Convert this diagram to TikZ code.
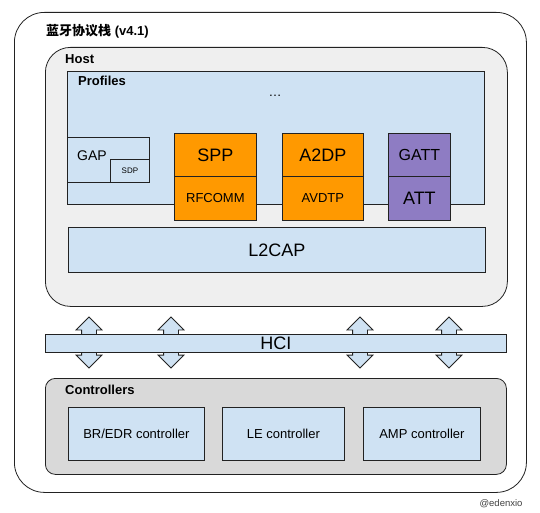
\documentclass[tikz,border=0pt]{standalone}
\usepackage{fontspec}
\setmainfont{Liberation Sans}
\newfontfamily\cjk{Noto Sans CJK SC}
\usetikzlibrary{shapes.arrows}
\definecolor{lineDark}{HTML}{222222}
\definecolor{hostGray}{HTML}{EFEFEF}
\definecolor{ctrlGray}{HTML}{D9D9D9}
\definecolor{profBlue}{HTML}{CFE2F3}
\definecolor{sppOrange}{HTML}{FF9900}
\definecolor{attPurple}{HTML}{8E7CC3}
\tikzset{
	layer/.style={draw=lineDark, line width=0.8pt, rectangle, inner sep=0pt, anchor=north west},
	bigText/.style={font=\fontsize{18}{20}\selectfont},
	midText/.style={font=\fontsize{13}{15}\selectfont},
	headText/.style={font=\bfseries\fontsize{13}{15}\selectfont, anchor=west, inner sep=0pt}
}
\tikzset{
	hciArrow/.style={draw=lineDark, line width=0.8pt, fill=profBlue, double arrow, rotate=90,
		minimum height=51, minimum width=25, inner sep=7pt, double arrow head extend=5.5pt}
}
\begin{document}
\begin{tikzpicture}[x=1pt, y=-1pt]
	\useasboundingbox (0,0) rectangle (540,513);
	\node[layer, rounded corners=30, fill=white, minimum width=512, minimum height=480] (stack) at (14,12) {};
	\node[headText] (title) at (46,31) {{\cjk 蓝牙协议栈} (v4.1)};
	\node[layer, rounded corners=25, fill=hostGray, minimum width=462, minimum height=259] (host) at (45,47) {};
	\node[headText] (hostLabel) at (65,59) {Host};
	\node[layer, fill=profBlue, minimum width=417, minimum height=133] (profiles) at (67,71) {};
	\node[headText] (profLabel) at (78,81) {Profiles};
	\node[midText] (dots) at (275,96) {\dots};
	\node[layer, fill=profBlue, minimum width=82, minimum height=45] (gap) at (67,137) {};
	\node[font=\fontsize{14}{16}\selectfont] (gapText) at (92,156) {GAP};
	\node[layer, fill=profBlue, minimum width=39, minimum height=23, font=\fontsize{8}{9}\selectfont] (sdp) at (110,159) {SDP};
	\node[layer, bigText, fill=sppOrange, minimum width=82, minimum height=43] (spp) at (174,133) {SPP};
	\node[layer, midText, fill=sppOrange, minimum width=82, minimum height=44] (rfcomm) at (174,176) {RFCOMM};
	\node[layer, bigText, fill=sppOrange, minimum width=81, minimum height=43] (a2dp) at (282,133) {A2DP};
	\node[layer, midText, fill=sppOrange, minimum width=81, minimum height=44] (avdtp) at (282,176) {AVDTP};
	\node[layer, fill=attPurple, minimum width=62, minimum height=43, font=\fontsize{16}{18}\selectfont] (gatt) at (388,133) {GATT};
	\node[layer, bigText, fill=attPurple, minimum width=62, minimum height=44] (att) at (388,176) {ATT};
	\node[layer, bigText, fill=profBlue, minimum width=417, minimum height=45] (l2cap) at (68,227) {L2CAP};
	\foreach \ax/\nm in {89/arrA, 171/arrB, 360/arrC, 449/arrD}
		\node[hciArrow] (\nm) at (\ax,342.5) {};
	\node[layer, bigText, fill=profBlue, minimum width=461, minimum height=18] (hci) at (45,334) {HCI};
	\node[layer, rounded corners=10, fill=ctrlGray, minimum width=461, minimum height=96] (ctrl) at (45,378) {};
	\node[headText] (ctrlLabel) at (65,390) {Controllers};
	\node[layer, midText, fill=profBlue, minimum width=136, minimum height=53] (bredr) at (68,407) {BR/EDR controller};
	\node[layer, midText, fill=profBlue, minimum width=122, minimum height=53] (le) at (222,407) {LE controller};
	\node[layer, midText, fill=profBlue, minimum width=117, minimum height=53] (amp) at (363,407) {AMP controller};
	\node[font=\fontsize{9.5}{11}\selectfont, text=black!75] (credit) at (501,504) {@edenxio};
\end{tikzpicture}
\end{document}
